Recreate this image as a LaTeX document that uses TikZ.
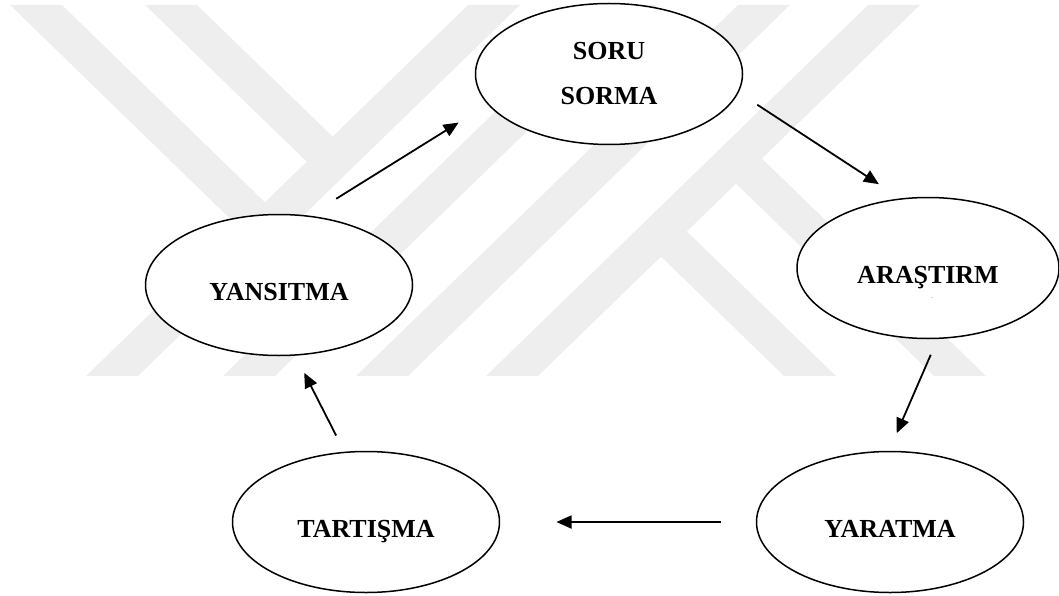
\documentclass[tikz,border=0pt]{standalone}
\usepackage{fontspec}
\setmainfont{Liberation Serif}
\usetikzlibrary{shapes.geometric,arrows.meta}
\definecolor{wmgray}{RGB}{238,238,238}
\newcommand{\arw}{-{Triangle[length=15pt,width=13pt]}}

\begin{document}
\begin{tikzpicture}[x=1pt,y=-1pt,
  stage/.style={ellipse,draw,line width=1.5pt,fill=white,minimum width=267pt,minimum height=141pt,
    inner sep=0pt,outer sep=0pt,align=center,font=\fontsize{26}{45}\selectfont\bfseries},
  oneline/.style={text height=30pt,text depth=0pt},
  flow/.style={line width=1.8pt}]
\useasboundingbox (0,0) rectangle (1059,596);
%watermark in the background
\fill[wmgray] (468,5) -- (520,5) -- (138,376) -- (86,376) -- cycle;
\fill[wmgray] (605,5) -- (657,5) -- (275,376) -- (223,376) -- cycle;
\fill[wmgray] (738,5) -- (790,5) -- (408,376) -- (356,376) -- cycle;
\fill[wmgray] (868,5) -- (920,5) -- (538,376) -- (486,376) -- cycle;
\fill[wmgray] (10,5) -- (62,5) -- (278,215) -- (252,240) -- cycle;
\fill[wmgray] (145,5) -- (197,5) -- (345.5,149) -- (319.5,174) -- cycle;
\fill[wmgray] (648,244) -- (674,219) -- (836,376) -- (784,376) -- cycle;
\fill[wmgray] (723,171) -- (749,146) -- (986,376) -- (934,376) -- cycle;
%stages of the cycle
\node[stage] (soru) at (609,74) {SORU\\SORMA};
\node[stage,oneline,minimum width=262pt] (aras) at (928,268) {ARAŞTIRM};
\node[text=gray,font=\fontsize{8}{8}\selectfont] (mark) at (932,298) {.};
\node[stage,oneline] (yar) at (890,522) {YARATMA};
\node[stage,oneline] (tar) at (366,522) {TARTIŞMA};
\node[stage,oneline] (yans) at (279,285) {YANSITMA};
%arrows between the stages
\draw[flow,\arw,shorten <=33pt,shorten >=35pt] (yans.67) -- (soru.194);
\draw[flow,\arw,shorten <=23pt,shorten >=27pt] (soru.-8) -- (aras.111);
\draw[flow,\arw,shorten <=18pt,shorten >=20pt] (aras.278) -- (yar.91);
\draw[flow,\arw,shorten <=36pt,shorten >=57pt] (yar.west) -- (tar.east);
\draw[flow,\arw,shorten <=19pt,shorten >=20pt] (tar.107) -- (yans.283);
\end{tikzpicture}
\end{document}
